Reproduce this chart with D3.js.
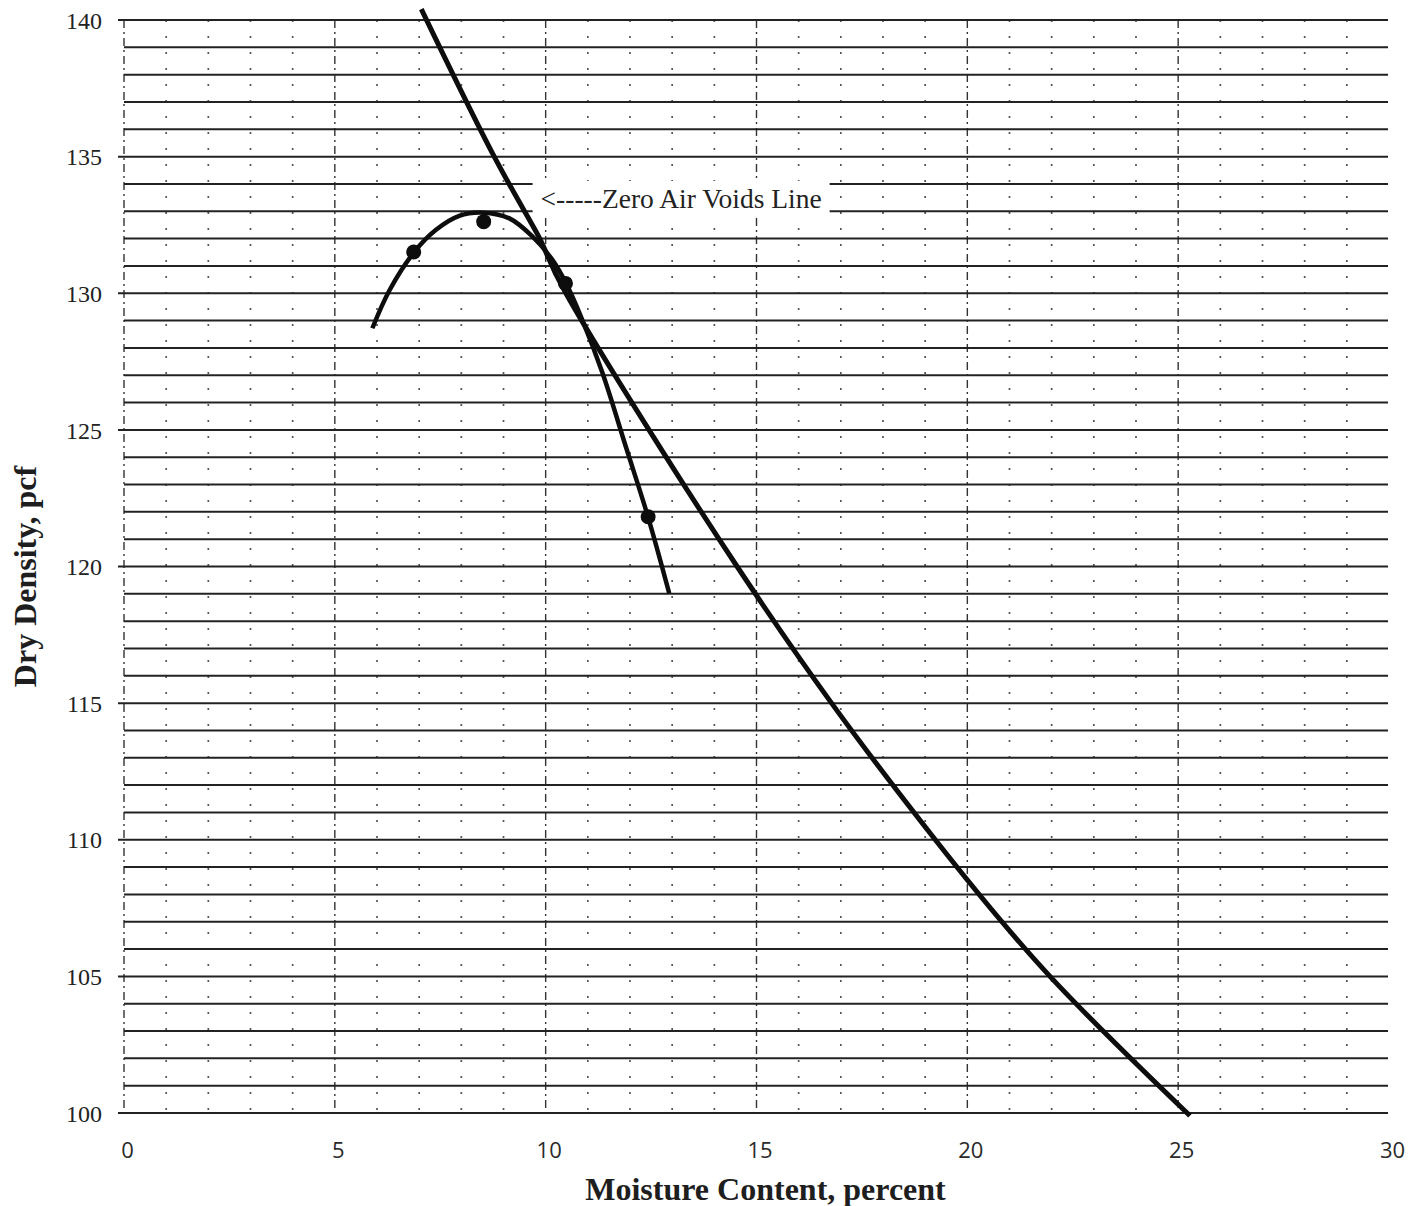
<!DOCTYPE html>
<html>
<head>
<meta charset="utf-8">
<script src="https://cdn.jsdelivr.net/npm/d3@7"></script>
<style>
  html, body { margin: 0; padding: 0; background: #fff; }
  svg { display: block; }
</style>
</head>
<body>
<svg id="chart" width="1419" height="1206"></svg>
<script>
// Axis ticks
const moistureTicks = [0, 5, 10, 15, 20, 25, 30];
const densityTicks = [100, 105, 110, 115, 120, 125, 130, 135, 140];

// Proctor test results (moisture %, dry density pcf)
const testMoisture = [6.87, 8.53, 10.47, 12.43];
const testDensity = [131.51, 132.62, 130.36, 121.82];

// Compaction curve drawn through the test results
const curveMoisture = [5.89, 6.30, 6.89, 7.40, 7.95, 8.51, 9.14, 9.69, 10.16, 10.48, 10.87, 11.35, 11.90, 12.43, 12.93];
const curveDensity  = [128.72, 130.12, 131.52, 132.32, 132.83, 132.95, 132.74, 132.07, 131.22, 130.37, 129.02, 127.07, 124.39, 121.80, 119.02];

// Zero air voids (100% saturation) line
const zavMoisture = [7.05, 8.78, 9.86, 10.48, 12.45, 14.54, 16.78, 19.24, 21.96, 25.28];
const zavDensity  = [140.4, 135.0, 132.0, 130.0, 125.0, 120.0, 115.0, 110.0, 105.0, 99.9];

const zavLabel = "<-----Zero Air Voids Line";
const xTitle = "Moisture Content, percent";
const yTitle = "Dry Density, pcf";

const svg = d3.select("#chart");

const x = d3.scaleLinear().domain([0, 30]).range([124, 1389]);
const y = d3.scaleLinear().domain([100, 140]).range([1113, 20]);

const ink = "#222";

// ---- vertical grid: dotted at each percent, dash-dot every 5 percent ----
const minorX = d3.range(1, 30).filter(v => v % 5 !== 0);
const majorX = d3.range(0, 30, 5);

svg.append("g").selectAll("line").data(minorX).join("line")
  .attr("x1", d => x(d)).attr("x2", d => x(d))
  .attr("y1", y(140)).attr("y2", y(100))
  .attr("stroke", "#555").attr("stroke-width", 1.7)
  .attr("stroke-dasharray", "2,14");

svg.append("g").selectAll("line").data(majorX).join("line")
  .attr("x1", d => x(d)).attr("x2", d => x(d))
  .attr("y1", y(140)).attr("y2", y(100))
  .attr("stroke", "#333").attr("stroke-width", 1.4)
  .attr("stroke-dasharray", "8,4,2,4");

// ---- horizontal grid: solid line every pcf, major lines stick out as ticks ----
const gridY = d3.range(100, 141);
svg.append("g").selectAll("line").data(gridY).join("line")
  .attr("x1", d => d % 5 === 0 ? x(0) - 6 : x(0))
  .attr("x2", x(30) - 1)
  .attr("y1", d => y(d)).attr("y2", d => y(d))
  .attr("stroke", ink).attr("stroke-width", 2);

// ---- axis labels via d3 axes (domain path and tick lines hidden) ----
const yAxis = svg.append("g")
  .attr("transform", `translate(${x(0) - 22},0)`)
  .call(d3.axisLeft(y).tickValues(densityTicks).tickSize(0).tickPadding(0));
yAxis.select(".domain").remove();
yAxis.selectAll("text")
  .attr("font-family", "'Liberation Serif', 'Times New Roman', serif")
  .attr("font-size", 24).attr("fill", "#222").attr("dy", "0.34em");

const xAxis = svg.append("g")
  .attr("transform", `translate(3,${y(100) + 29})`)
  .call(d3.axisBottom(x).tickValues(moistureTicks).tickSize(0).tickPadding(0));
xAxis.select(".domain").remove();
xAxis.selectAll("text")
  .attr("font-family", "'Open Sans', 'DejaVu Sans', sans-serif")
  .attr("font-size", 22).attr("fill", "#2a2a2a");

// ---- axis titles ----
svg.append("text")
  .attr("x", (x(0) + x(30)) / 2 + 9).attr("y", 1200)
  .attr("text-anchor", "middle")
  .attr("font-family", "'Liberation Serif', 'Times New Roman', serif")
  .attr("font-weight", "bold").attr("font-size", 32).attr("fill", "#1e1e1e")
  .text(xTitle);

svg.append("text")
  .attr("transform", `translate(36,${y(120) + 10}) rotate(-90)`)
  .attr("text-anchor", "middle")
  .attr("font-family", "'Liberation Serif', 'Times New Roman', serif")
  .attr("font-weight", "bold").attr("font-size", 32).attr("fill", "#1e1e1e")
  .text(yTitle);

// ---- label for the zero air voids line, on a white panel ----
const labelG = svg.append("g");
const labelText = labelG.append("text")
  .attr("x", x(9.88)).attr("y", y(133.12))
  .attr("font-family", "'Liberation Serif', 'Times New Roman', serif")
  .attr("font-size", 27.5).attr("fill", "#222")
  .text(zavLabel);
const bb = labelText.node().getBBox();
labelG.insert("rect", "text")
  .attr("x", bb.x - 8).attr("y", bb.y - 2)
  .attr("width", bb.width + 16).attr("height", bb.height + 4)
  .attr("fill", "#fff");

// ---- curves ----
const zavData = zavMoisture.map((m, i) => [m, zavDensity[i]]);
const curveData = curveMoisture.map((m, i) => [m, curveDensity[i]]);

const zavLine = d3.line()
  .x(d => x(d[0])).y(d => y(d[1]))
  .curve(d3.curveNatural);
const compactionLine = d3.line()
  .x(d => x(d[0])).y(d => y(d[1]))
  .curve(d3.curveCatmullRom.alpha(0.5));

svg.append("path").datum(zavData)
  .attr("d", zavLine)
  .attr("fill", "none").attr("stroke", "#0d0d0d").attr("stroke-width", 5)
  .attr("stroke-linecap", "butt");

svg.append("path").datum(curveData)
  .attr("d", compactionLine)
  .attr("fill", "none").attr("stroke", "#0d0d0d").attr("stroke-width", 4.5)
  .attr("stroke-linecap", "butt");

// ---- test points ----
svg.append("g").selectAll("circle").data(testMoisture).join("circle")
  .attr("cx", d => x(d))
  .attr("cy", (d, i) => y(testDensity[i]))
  .attr("r", 7.5)
  .attr("fill", "#0d0d0d");
</script>
</body>
</html>
